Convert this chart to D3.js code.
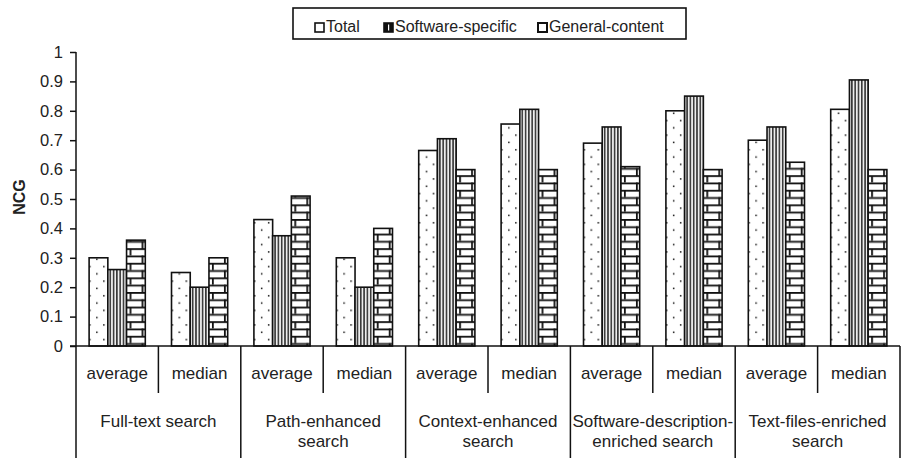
<!DOCTYPE html>
<html>
<head>
<meta charset="utf-8">
<script src="https://cdn.jsdelivr.net/npm/d3@7"></script>
<style>
  body { margin: 0; background: #fff; }
  svg { display: block; font-family: "Liberation Sans", Arial, sans-serif; }
</style>
</head>
<body>
<svg id="chart"></svg>
<script>
const categories = ["average", "median", "average", "median", "average", "median", "average", "median", "average", "median"];
const groups = [["Full-text search"], ["Path-enhanced", "search"], ["Context-enhanced", "search"], ["Software-description-", "enriched search"], ["Text-files-enriched", "search"]];
const seriesNames = ["Total", "Software-specific", "General-content"];
const total = [0.30, 0.25, 0.43, 0.30, 0.665, 0.755, 0.69, 0.80, 0.70, 0.805];
const software = [0.26, 0.20, 0.375, 0.20, 0.705, 0.805, 0.745, 0.85, 0.745, 0.905];
const general = [0.36, 0.30, 0.51, 0.40, 0.60, 0.60, 0.61, 0.60, 0.625, 0.60];
const yTicks = [0, 0.1, 0.2, 0.3, 0.4, 0.5, 0.6, 0.7, 0.8, 0.9, 1];

const W = 903, H = 458;
const svg = d3.select("#chart").attr("width", W).attr("height", H);

// patterns
const defs = svg.append("defs");
const dots = defs.append("pattern").attr("id", "p-total").attr("patternUnits", "userSpaceOnUse")
  .attr("width", 14).attr("height", 14.6);
dots.append("rect").attr("width", 14).attr("height", 14.6).attr("fill", "#fff");
dots.append("rect").attr("x", 0).attr("y", 3).attr("width", 1.5).attr("height", 1.5).attr("fill", "#111");
dots.append("rect").attr("x", 7).attr("y", 10.3).attr("width", 1.5).attr("height", 1.5).attr("fill", "#111");

const vl = defs.append("pattern").attr("id", "p-soft").attr("patternUnits", "userSpaceOnUse")
  .attr("width", 3.3).attr("height", 10);
vl.append("rect").attr("width", 3.3).attr("height", 10).attr("fill", "#eee");
vl.append("rect").attr("x", 1.8).attr("width", 1.3).attr("height", 10).attr("fill", "#111");

const brick = defs.append("pattern").attr("id", "p-gen").attr("patternUnits", "userSpaceOnUse")
  .attr("width", 24).attr("height", 14.6);
brick.append("rect").attr("width", 24).attr("height", 14.6).attr("fill", "#fff");
brick.append("rect").attr("y", 0).attr("width", 24).attr("height", 1.8).attr("fill", "#111");
brick.append("rect").attr("y", 7.3).attr("width", 24).attr("height", 1.8).attr("fill", "#111");
brick.append("rect").attr("x", 3).attr("y", 0).attr("width", 1.8).attr("height", 7.3).attr("fill", "#111");
brick.append("rect").attr("x", 15).attr("y", 7.3).attr("width", 1.8).attr("height", 7.3).attr("fill", "#111");

const fills = ["url(#p-total)", "url(#p-soft)", "url(#p-gen)"];
const seriesData = [total, software, general];

// scales
const x = d3.scaleBand().domain(d3.range(categories.length)).range([76, 900]).paddingInner(0).paddingOuter(0);
const xs = d3.scaleBand().domain(d3.range(seriesNames.length)).range([0, x.bandwidth()]).paddingInner(0).paddingOuter(0.7);
const y = d3.scaleLinear().domain([0, 1]).range([346, 52]);

// y axis
const yAxis = svg.append("g").attr("transform", "translate(76,0)")
  .call(d3.axisLeft(y).tickValues(yTicks).tickFormat(d3.format("")).tickSize(6).tickPadding(7));
yAxis.select(".domain").attr("stroke", "#111").attr("stroke-width", 1.5).attr("d", "M0,52V346");
yAxis.selectAll(".tick line").attr("stroke", "#111").attr("stroke-width", 1.5);
yAxis.selectAll(".tick text").attr("font-size", 16.5).attr("fill", "#222").attr("font-family", "Liberation Sans, Arial, sans-serif");

svg.append("text").attr("transform", "translate(25,197) rotate(-90)")
  .attr("text-anchor", "middle").attr("font-size", 16).attr("font-weight", "bold").attr("fill", "#222").text("NCG");

// bars
const cat = svg.append("g").selectAll("g").data(categories).join("g");
seriesData.forEach((vals, s) => {
  cat.append("g")
    .attr("transform", (d, i) => `translate(${x(i) + xs(s)},0)`)
    .append("rect")
    .attr("x", 0).attr("y", (d, i) => y(vals[i]))
    .attr("width", xs.bandwidth()).attr("height", (d, i) => y(0) - y(vals[i]))
    .attr("fill", fills[s]).attr("stroke", "#111").attr("stroke-width", 1.6);
});

// category table below
const table = svg.append("g").attr("stroke", "#111").attr("stroke-width", 1.5);
table.append("line").attr("x1", 70).attr("x2", 900).attr("y1", y(0)).attr("y2", y(0));
categories.forEach((c, i) => {
  if (i % 2 === 1) {
    table.append("line").attr("x1", x(i)).attr("x2", x(i)).attr("y1", y(0)).attr("y2", 393);
  }
});
d3.range(groups.length + 1).forEach(g => {
  const gx = g < groups.length ? x(g * 2) : x.range()[1];
  table.append("line").attr("x1", gx).attr("x2", gx).attr("y1", y(0)).attr("y2", H);
});

svg.append("g").selectAll("text").data(categories).join("text")
  .attr("x", (d, i) => x(i) + x.bandwidth() / 2).attr("y", 379)
  .attr("text-anchor", "middle").attr("font-size", 17).attr("fill", "#222").text(d => d);

groups.forEach((lines, g) => {
  const cx = x(g * 2) + x.bandwidth();
  lines.forEach((t, j) => {
    svg.append("text").attr("x", cx).attr("y", 427 + j * 20)
      .attr("text-anchor", "middle").attr("font-size", 17).attr("fill", "#222").text(t);
  });
});

// legend
const legend = svg.append("g");
legend.append("rect").attr("x", 293).attr("y", 8).attr("width", 393).attr("height", 31)
  .attr("fill", "#fff").attr("stroke", "#111").attr("stroke-width", 1.6);
const legendX = [315, 384, 538];
seriesNames.forEach((n, s) => {
  legend.append("rect").attr("x", legendX[s]).attr("y", 23).attr("width", 9).attr("height", 9)
    .attr("fill", s === 1 ? "#111" : "#fff").attr("stroke", "#111").attr("stroke-width", s === 2 ? 2 : 1.6);
  if (s === 1) legend.append("rect").attr("x", legendX[s] + 4).attr("y", 24.5).attr("width", 1.2).attr("height", 6).attr("fill", "#fff");
  legend.append("text").attr("x", legendX[s] + 11).attr("y", 32)
    .attr("font-size", 16).attr("fill", "#222").text(n);
});
</script>
</body>
</html>
